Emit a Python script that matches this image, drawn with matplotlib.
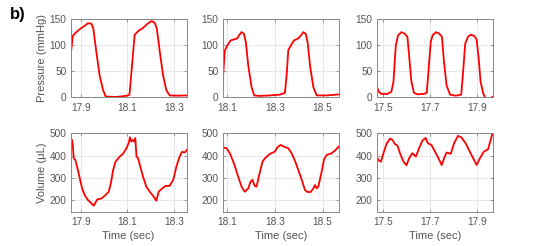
import matplotlib

matplotlib.use("Agg")
import matplotlib.pyplot as plt

# --- pressure traces (sec, mmHg) ---
p1_t = [17.857, 17.866, 17.881, 17.900, 17.917, 17.931, 17.946, 17.954, 17.967, 17.981,
        17.996, 18.007, 18.046, 18.074, 18.103, 18.109, 18.120, 18.131, 18.149, 18.167,
        18.186, 18.203, 18.217, 18.226, 18.239, 18.253, 18.267, 18.281, 18.317, 18.354]
p1_v = [80, 117, 124, 131, 136, 141, 140, 131, 86, 41,
        13, 1, 0, 1, 3, 4.5, 61, 119, 127, 132,
        140, 145, 142, 131, 86, 41, 13, 3, 2.5, 3]

p2_t = [18.083, 18.090, 18.100, 18.114, 18.128, 18.142, 18.150, 18.160, 18.170, 18.178,
        18.188, 18.202, 18.213, 18.237, 18.279, 18.321, 18.342, 18.349, 18.356, 18.366,
        18.380, 18.398, 18.408, 18.419, 18.429, 18.437, 18.447, 18.461, 18.475, 18.517, 18.570]
p2_v = [43, 89, 98, 108, 110, 112, 118, 124, 121, 105,
        61, 19, 3, 2, 3, 4.5, 8, 41, 89, 98,
        108, 112, 117, 124, 121, 105, 61, 19, 3, 3, 5]

p3_t = [17.471, 17.480, 17.491, 17.517, 17.534, 17.543, 17.553, 17.563, 17.577, 17.591,
        17.603, 17.610, 17.620, 17.631, 17.646, 17.674, 17.686, 17.694, 17.703, 17.711,
        17.726, 17.740, 17.751, 17.760, 17.771, 17.786, 17.810, 17.834, 17.843, 17.851,
        17.863, 17.874, 17.889, 17.900, 17.909, 17.917, 17.929, 17.936, 17.946, 17.958, 17.969]
p3_v = [21, 10, 6, 6, 10, 29, 99, 118, 124, 121,
        115, 80, 29, 8, 5, 6, 8, 54, 105, 118,
        124, 121, 115, 67, 22, 4.5, 2.5, 4.5, 54, 102,
        115, 119, 117, 110, 73, 29, 6, 0, -5, -3, 0.5]

# --- volume traces (sec, uL) ---
v1_t = [17.857, 17.863, 17.866, 17.870, 17.877, 17.886, 17.896, 17.906, 17.917, 17.931,
        17.946, 17.956, 17.963, 17.971, 17.989, 18.006, 18.020, 18.029, 18.039, 18.049,
        18.067, 18.081, 18.096, 18.106, 18.111, 18.117, 18.124, 18.129, 18.134, 18.139,
        18.146, 18.157, 18.167, 18.181, 18.196, 18.210, 18.224, 18.234, 18.246, 18.263,
        18.281, 18.296, 18.310, 18.324, 18.334, 18.346, 18.354]
v1_v = [440, 470, 448, 388, 381, 344, 299, 254, 224, 202,
        187, 177, 190, 205, 209, 224, 239, 276, 336, 373,
        396, 408, 433, 458, 482, 463, 470, 463, 478, 396,
        388, 344, 306, 262, 239, 221, 199, 239, 251, 265,
        265, 291, 351, 396, 417, 414, 425]

v2_t = [18.080, 18.097, 18.111, 18.128, 18.146, 18.160, 18.174, 18.188, 18.198, 18.206,
        18.215, 18.223, 18.234, 18.248, 18.258, 18.279, 18.300, 18.310, 18.324, 18.338,
        18.356, 18.370, 18.388, 18.408, 18.426, 18.436, 18.450, 18.461, 18.468, 18.475,
        18.482, 18.496, 18.506, 18.517, 18.538, 18.552, 18.570]
v2_v = [437, 433, 411, 366, 306, 262, 239, 254, 284, 292,
        265, 262, 314, 373, 388, 408, 418, 437, 448, 440,
        433, 411, 366, 306, 247, 238, 238, 254, 269, 254,
        262, 329, 384, 403, 411, 423, 443]

v3_t = [17.471, 17.481, 17.489, 17.500, 17.514, 17.529, 17.539, 17.549, 17.560, 17.571,
        17.586, 17.599, 17.610, 17.624, 17.639, 17.653, 17.667, 17.681, 17.691, 17.706,
        17.717, 17.734, 17.750, 17.760, 17.771, 17.789, 17.803, 17.820, 17.834, 17.853,
        17.874, 17.889, 17.900, 17.914, 17.931, 17.949, 17.969]
v3_v = [393, 378, 373, 411, 455, 476, 470, 452, 445, 411,
        373, 357, 388, 411, 396, 433, 467, 479, 455, 448,
        426, 393, 358, 388, 414, 408, 455, 488, 482, 455,
        411, 381, 358, 388, 418, 428, 503]

xlims = [(17.857, 18.354), (18.081, 18.570), (17.471, 17.969)]
xticks = [[17.9, 18.1, 18.3], [18.1, 18.3, 18.5], [17.5, 17.7, 17.9]]
xticklabels = [["17.9", "18.1", "18.3"], ["18.1", "18.3", "18.5"], ["17.5", "17.7", "17.9"]]

plt.rcParams["font.family"] = ["Liberation Sans", "DejaVu Sans"]

fig = plt.figure(figsize=(5.45, 2.46), dpi=100)
lefts = [0.1297, 0.4086, 0.6912]
widths = [0.2128, 0.2140, 0.2128]
bottoms = [0.6057, 0.1394]
height = 0.319

pressure = [(p1_t, p1_v), (p2_t, p2_v), (p3_t, p3_v)]
volume = [(v1_t, v1_v), (v2_t, v2_v), (v3_t, v3_v)]

for row, (traces, ylim, yticks) in enumerate([
    (pressure, (0, 150), [0, 50, 100, 150]),
    (volume, (150, 500), [200, 300, 400, 500]),
]):
    for col in range(3):
        ax = fig.add_axes([lefts[col], bottoms[row], widths[col], height])
        t, v = traces[col]
        ax.plot(t, v, color="#ff0000", lw=1.3, clip_on=True)
        ax.set_xlim(*xlims[col])
        ax.set_ylim(*ylim)
        ax.set_xticks(xticks[col])
        ax.set_xticklabels(xticklabels[col])
        ax.set_yticks(yticks)
        ax.grid(True, color="#e8e8e8", lw=0.7)
        ax.set_axisbelow(True)
        for s in ax.spines.values():
            s.set_color("#888888")
            s.set_linewidth(0.7)
        ax.tick_params(direction="in", length=2.5, width=0.6, color="#888888",
                       labelcolor="#555555", labelsize=7.3, top=True, right=True)
        ax.tick_params(axis="x", pad=4)
        ax.tick_params(axis="y", pad=3)
        if col == 0:
            ax.set_ylabel("Pressure (mmHg)" if row == 0 else "Volume (μL)",
                          fontsize=8, color="#555555")
            ax.yaxis.set_label_coords(-0.205, 0.5)
        if row == 1:
            ax.set_xlabel("Time (sec)", fontsize=8, color="#555555", labelpad=3)

fig.text(0.018, 0.97, "b)", fontsize=12, fontweight="bold", va="top", ha="left")

fig.savefig("out.png", dpi=100)
